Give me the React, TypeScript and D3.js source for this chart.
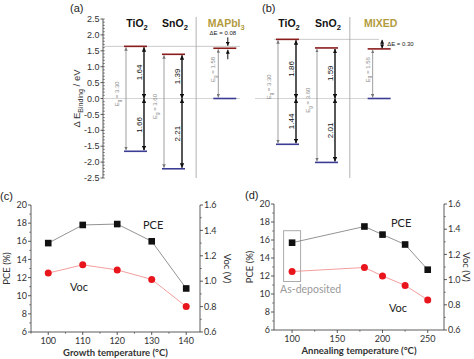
import React from "react";
import * as d3 from "d3";

// band alignment panels (a) and (b)
const namesA = ["TiO2", "SnO2", "MAPbI3"];
const cbA = [1.64, 1.39, 1.58];
const vbA = [-1.66, -2.21, 0];
const egA = [3.3, 3.6, 1.58];
const dEA = 0.08;

const namesB = ["TiO2", "SnO2", "MIXED"];
const cbB = [1.86, 1.59, 1.56];
const vbB = [-1.44, -2.01, 0];
const egB = [3.3, 3.6, 1.56];
const dEB = 0.3;

const bandTicks = [2.5, 2.0, 1.5, 1.0, 0.5, 0.0, -0.5, -1.0, -1.5, -2.0, -2.5];

// panel (c): growth temperature
const growthTemp = [100, 110, 120, 130, 140];
const growthPCE = [15.8, 17.8, 17.9, 16.0, 10.8];
const growthVoc = [1.064, 1.129, 1.089, 1.014, 0.8];

// panel (d): annealing temperature
const annealTemp = [100, 180, 200, 225, 250];
const annealPCE = [15.7, 17.5, 16.6, 15.5, 12.7];
const annealVoc = [1.064, 1.096, 1.029, 0.954, 0.839];

const pceTicks = [6, 8, 10, 12, 14, 16, 18, 20];
const vocTicks = [0.6, 0.8, 1.0, 1.2, 1.4, 1.6];

const AX = "#333";
const CB_COLOR = "#8b1c1c";
const VB_COLOR = "#3b3d94";
const PEROV = "#b39b3e";
const FONT = "'Liberation Sans', Arial, sans-serif";
const FONT2 = "Lato, 'Open Sans', sans-serif";

const yBand = d3.scaleLinear().domain([-2.5, 2.5]).range([178, 19]);

function Formula({ text }: { text: string }) {
  const m = text.match(/^(.*?)(\d*)$/)!;
  return (
    <>
      {m[1]}
      {m[2] && (
        <tspan dy="2.5" fontSize="0.72em">
          {m[2]}
        </tspan>
      )}
    </>
  );
}

function Eg({ x, y, v }: { x: number; y: number; v: number }) {
  return (
    <text
      transform={`translate(${x},${y}) rotate(-90)`}
      textAnchor="middle"
      dy="0.35em"
      fontSize={6}
      fill="#888"
      fontFamily={FONT}
    >
      E<tspan dy="1.5" fontSize="0.75em">g</tspan>
      <tspan dy="-1.5"> = {v.toFixed(2)}</tspan>
    </text>
  );
}

type BandProps = {
  names: string[];
  cb: number[];
  vb: number[];
  eg: number[];
  dE: number;
  start: number;
  step: number;
  refX: [number, number];
  zeroX: [number, number];
  tag: string;
  tagX: number;
  between: boolean;
};

function BandPanel(p: BandProps) {
  const slot = d3.scaleLinear().domain([0, 1]).range([p.start, p.start + p.step]);
  const slots = [0, 1, 2.35];
  const w = 23;
  const lefts = slots.map((s) => slot(s));
  const y0 = yBand(0);
  const yRef = yBand(p.cb[0]);
  const sepX = (lefts[1] + w + lefts[2]) / 2 - 3;
  const pi = 2;
  const px = lefts[pi] + w / 2 + 3;
  return (
    <g>
      <text x={p.tagX} y={12} fontSize={11} fontFamily={FONT} fill="#222">
        {p.tag}
      </text>
      <line x1={p.refX[0]} x2={p.refX[1]} y1={yRef} y2={yRef} stroke="#bbb" strokeWidth={0.8} />
      <line x1={p.zeroX[0]} x2={p.zeroX[1]} y1={y0} y2={y0} stroke="#ccc" strokeWidth={0.8} />
      <line x1={sepX} x2={sepX} y1={17} y2={178} stroke="#aaa" strokeWidth={0.9} />
      {p.names.map((n, i) => {
        const l = lefts[i];
        const yc = yBand(p.cb[i]);
        const yv = yBand(p.vb[i]);
        const perov = i === pi;
        const ax = l + 2;
        const bx = l + w - 3;
        return (
          <g key={n}>
            <text
              x={l + w / 2 + 1.5}
              y={27}
              textAnchor="middle"
              fontSize={10.5}
              fontWeight="bold"
              fontFamily={FONT}
              fill={perov ? PEROV : "#111"}
            >
              <Formula text={n} />
            </text>
            {/* band gap arrow */}
            <line
              x1={perov ? l + 5 : ax}
              x2={perov ? l + 5 : ax}
              y1={yc + 1}
              y2={yv - 1}
              stroke="#888"
              strokeWidth={0.8}
              markerStart="url(#ag)"
              markerEnd="url(#ag)"
            />
            <Eg x={perov ? l : l - 7} y={(yc + yv) / 2 - (perov ? 4 : 5)} v={p.eg[i]} />
            {!perov && (
              <>
                <line x1={bx} x2={bx} y1={yc + 1} y2={y0} stroke="#111" strokeWidth={1.4}
                  markerStart="url(#ab)" markerEnd="url(#ab)" />
                <line x1={bx} x2={bx} y1={y0} y2={yv - 1} stroke="#111" strokeWidth={1.4}
                  markerStart="url(#ab)" markerEnd="url(#ab)" />
                <text transform={`translate(${bx - 5},${(yc + y0) / 2}) rotate(-90)`} textAnchor="middle"
                  dy="0.35em" fontSize={8} fontFamily={FONT} fill="#111">
                  {p.cb[i].toFixed(2)}
                </text>
                <text transform={`translate(${bx - 5},${(yv + y0) / 2}) rotate(-90)`} textAnchor="middle"
                  dy="0.35em" fontSize={8} fontFamily={FONT} fill="#111">
                  {(-p.vb[i]).toFixed(2)}
                </text>
              </>
            )}
            <line x1={l} x2={l + w} y1={yc} y2={yc} stroke={CB_COLOR} strokeWidth={1.6} />
            <line x1={l} x2={l + w} y1={yv} y2={yv} stroke={VB_COLOR} strokeWidth={1.6} />
          </g>
        );
      })}
      {p.between ? (
        <g>
          <line x1={px} x2={px} y1={yRef + 0.5} y2={yBand(p.cb[pi]) - 0.5} stroke="#111" strokeWidth={1}
            markerStart="url(#as)" markerEnd="url(#as)" />
          <text x={px + 5} y={yRef + 7} fontSize={6} fontFamily={FONT} fill="#222">
            ΔE = {p.dE.toFixed(2)}
          </text>
        </g>
      ) : (
        <g>
          <line x1={px} x2={px} y1={yRef - 9} y2={yRef - 0.5} stroke="#111" strokeWidth={1} markerEnd="url(#as)" />
          <line x1={px} x2={px} y1={yBand(p.cb[pi]) + 11} y2={yBand(p.cb[pi]) + 1.5} stroke="#111"
            strokeWidth={1} markerEnd="url(#as)" />
          <text x={px - 5} y={35} textAnchor="middle" fontSize={6} fontFamily={FONT} fill="#222">
            ΔE = {p.dE.toFixed(2)}
          </text>
        </g>
      )}
    </g>
  );
}

function BandAxis() {
  const x = 103;
  const minor = d3.range(-25, 26).map((d) => d / 10);
  return (
    <g fontFamily={FONT}>
      <line x1={x} x2={x} y1={yBand(2.5)} y2={yBand(-2.5)} stroke={AX} strokeWidth={0.8} />
      {minor.map((v) => (
        <line key={v} x1={x} x2={x + 1.8} y1={yBand(v)} y2={yBand(v)} stroke={AX} strokeWidth={0.6} />
      ))}
      {bandTicks.map((v) => (
        <g key={v}>
          <line x1={x - 2.5} x2={x} y1={yBand(v)} y2={yBand(v)} stroke={AX} strokeWidth={0.8} />
          <text x={x - 3.5} y={yBand(v)} dy="0.35em" textAnchor="end" fontSize={9} fill="#333">
            {v.toFixed(1)}
          </text>
        </g>
      ))}
      <text transform={`translate(80,${yBand(0)}) rotate(-90)`} textAnchor="middle" fontSize={9.5} fill="#333">
        Δ E<tspan dy="2.5" fontSize="0.75em">Binding</tspan>
        <tspan dy="-2.5"> / eV</tspan>
      </text>
    </g>
  );
}

type LineProps = {
  temps: number[];
  pce: number[];
  voc: number[];
  xDomain: [number, number];
  xRange: [number, number];
  yRange: [number, number];
  xMajor: number[];
  xMinor: number[];
  xLabel: string;
  tag: string;
  tagX: number;
  pceLabel: [number, number];
  vocLabel: [number, number];
  boxed: boolean;
  vocTitleX: number;
};

function LinePanel(p: LineProps) {
  const x = d3.scaleLinear().domain(p.xDomain).range(p.xRange);
  const yL = d3.scaleLinear().domain([6, 20]).range(p.yRange);
  const yR = d3.scaleLinear().domain([0.6, 1.6]).range(p.yRange);
  const [x0, x1] = p.xRange;
  const [yb, yt] = p.yRange;
  const pceLine = d3.line<number>().x((_, i) => x(p.temps[i])).y((d) => yL(d));
  const vocLine = d3.line<number>().x((_, i) => x(p.temps[i])).y((d) => yR(d));
  const leftMinor = d3.range(7, 20, 2);
  const rightMinor = [0.7, 0.9, 1.1, 1.3, 1.5];
  return (
    <g fontFamily={FONT2}>
      <text x={p.tagX} y={yt - 5} fontSize={11} fontFamily={FONT} fill="#222">
        {p.tag}
      </text>
      <path d={`M${x0},${yt}V${yb}H${x1}V${yt}`} fill="none" stroke={AX} strokeWidth={0.8} />
      {p.xMajor.map((v) => (
        <g key={v}>
          <line x1={x(v)} x2={x(v)} y1={yb} y2={yb + 3} stroke={AX} strokeWidth={0.8} />
          <text x={x(v)} y={yb + 12} textAnchor="middle" fontSize={9} fill="#333">
            {v}
          </text>
        </g>
      ))}
      {p.xMinor.map((v) => (
        <line key={v} x1={x(v)} x2={x(v)} y1={yb} y2={yb + 1.8} stroke={AX} strokeWidth={0.6} />
      ))}
      {pceTicks.map((v) => (
        <g key={v}>
          <line x1={x0 - 3} x2={x0} y1={yL(v)} y2={yL(v)} stroke={AX} strokeWidth={0.8} />
          <text x={x0 - 4} y={yL(v)} dy="0.35em" textAnchor="end" fontSize={9} fill="#333">
            {v}
          </text>
        </g>
      ))}
      {leftMinor.map((v) => (
        <line key={v} x1={x0 - 1.8} x2={x0} y1={yL(v)} y2={yL(v)} stroke={AX} strokeWidth={0.6} />
      ))}
      {vocTicks.map((v) => (
        <g key={v}>
          <line x1={x1} x2={x1 + 3} y1={yR(v)} y2={yR(v)} stroke={AX} strokeWidth={0.8} />
          <text x={x1 + 4} y={yR(v)} dy="0.35em" fontSize={9} fill="#333">
            {v.toFixed(1)}
          </text>
        </g>
      ))}
      {rightMinor.map((v) => (
        <line key={v} x1={x1} x2={x1 + 1.8} y1={yR(v)} y2={yR(v)} stroke={AX} strokeWidth={0.6} />
      ))}
      <text x={(x0 + x1) / 2} y={yb + 24} textAnchor="middle" fontSize={9.5} fontWeight="bold" fill="#333">
        {p.xLabel}
      </text>
      <text transform={`translate(${x0 - 21},${(yt + yb) / 2}) rotate(-90)`} textAnchor="middle"
        fontSize={9.5} fill="#333">
        PCE (%)
      </text>
      <text transform={`translate(${p.vocTitleX},${(yt + yb) / 2}) rotate(90)`} textAnchor="middle"
        fontSize={9.5} fill="#333">
        Voc (V)
      </text>
      {p.boxed && (
        <g>
          <rect x={x(p.temps[0]) - 8.5} y={yL(p.pce[0]) - 12} width={17} height={yL(12.5) - yL(p.pce[0]) + 22}
            fill="none" stroke="#aaa" strokeWidth={1} />
          <text x={x(p.temps[0]) - 12} y={yL(10.1)} fontSize={10.5} fill="#999">
            As-deposited
          </text>
        </g>
      )}
      <path d={pceLine(p.pce)!} fill="none" stroke="#777" strokeWidth={0.8} />
      <path d={vocLine(p.voc)!} fill="none" stroke="#f08585" strokeWidth={0.8} />
      {p.pce.map((v, i) => (
        <rect key={i} x={x(p.temps[i]) - 3.3} y={yL(v) - 3.3} width={6.6} height={6.6} fill="#111" />
      ))}
      {p.voc.map((v, i) => (
        <circle key={i} cx={x(p.temps[i])} cy={yR(v)} r={3.5} fill="#e8151c" />
      ))}
      <text x={p.pceLabel[0]} y={p.pceLabel[1]} fontSize={11} fill="#222">
        PCE
      </text>
      <text x={p.vocLabel[0]} y={p.vocLabel[1]} fontSize={11} fill="#222">
        Voc
      </text>
    </g>
  );
}

export default function App() {
  return (
    <svg
      width={474}
      height={359}
      style={{ position: "absolute", left: 0, top: 0, background: "#fff" }}
    >
      <defs>
        <marker id="ab" viewBox="0 0 6 6" refX={6} refY={3} markerWidth={4.5} markerHeight={4.5}
          markerUnits="userSpaceOnUse" orient="auto-start-reverse">
          <path d="M0,0L6,3L0,6z" fill="#111" />
        </marker>
        <marker id="ag" viewBox="0 0 6 6" refX={6} refY={3} markerWidth={3.5} markerHeight={3.5}
          markerUnits="userSpaceOnUse" orient="auto-start-reverse">
          <path d="M0,0L6,3L0,6z" fill="#777" />
        </marker>
        <marker id="as" viewBox="0 0 6 6" refX={6} refY={3} markerWidth={4} markerHeight={4}
          markerUnits="userSpaceOnUse" orient="auto-start-reverse">
          <path d="M0,0L6,3L0,6z" fill="#111" />
        </marker>
      </defs>
      <BandAxis />
      <BandPanel names={namesA} cb={cbA} vb={vbA} eg={egA} dE={dEA} start={124} step={38}
        refX={[103, 240]} zeroX={[103, 240]} tag="(a)" tagX={70} between={false} />
      <BandPanel names={namesB} cb={cbB} vb={vbB} eg={egB} dE={dEB} start={276} step={39}
        refX={[274, 379]} zeroX={[255, 389]} tag="(b)" tagX={262} between={true} />
      <LinePanel temps={growthTemp} pce={growthPCE} voc={growthVoc} xDomain={[95, 144]} xRange={[31, 200]}
        yRange={[332, 205]} xMajor={[100, 110, 120, 130, 140]} xMinor={[95, 105, 115, 125, 135]}
        xLabel="Growth temperature (°C)" tag="(c)" tagX={0} pceLabel={[143, 229]} vocLabel={[70, 291]}
        boxed={false} vocTitleX={224} />
      <LinePanel temps={annealTemp} pce={annealPCE} voc={annealVoc} xDomain={[80, 268]} xRange={[274, 444]}
        yRange={[330, 204]} xMajor={[100, 150, 200, 250]} xMinor={[125, 175, 225]}
        xLabel="Annealing temperature (°C)" tag="(d)" tagX={245} pceLabel={[391, 227]} vocLabel={[389, 312]}
        boxed={true} vocTitleX={463} />
    </svg>
  );
}
